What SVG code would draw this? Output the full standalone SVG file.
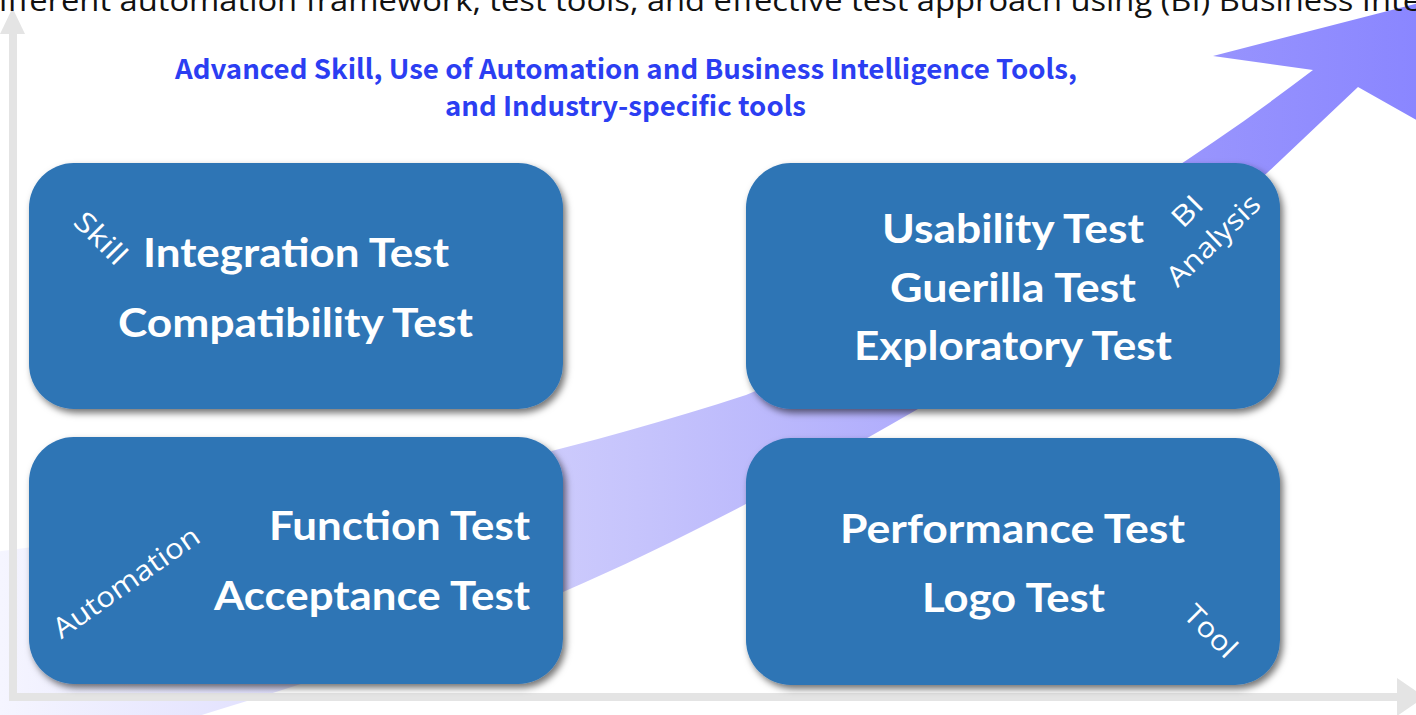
<svg xmlns="http://www.w3.org/2000/svg" width="1416" height="715" viewBox="0 0 1416 715">
  <defs>
    <linearGradient id="arrowGrad" gradientUnits="userSpaceOnUse" x1="0" y1="0" x2="1416" y2="0">
      <stop offset="0" stop-color="#f5f5ff"/>
      <stop offset="0.45" stop-color="#c6c4fc"/>
      <stop offset="0.85" stop-color="#9894fd"/>
      <stop offset="1" stop-color="#8a86ff"/>
    </linearGradient>
    <filter id="shadow" x="-10%" y="-10%" width="125%" height="130%">
      <feDropShadow dx="3" dy="4" stdDeviation="3.5" flood-color="#000" flood-opacity="0.55"/>
    </filter>
    <style>
      .box { fill: #2e74b5; filter: url(#shadow); }
      .main { font-family: Lato, "Open Sans", sans-serif; font-weight: bold; font-size: 40px; fill: #ffffff; }
      .tag { font-family: "Open Sans", "DejaVu Sans", sans-serif; font-size: 28px; fill: #ffffff; }
      .blue { font-family: "Noto Sans CJK JP", "Noto Sans", sans-serif; font-weight: bold; font-size: 27px; fill: #2b3ef2; }
      .axis { fill: #e4e4e4; }
    </style>
  </defs>
  <rect width="1416" height="715" fill="#ffffff"/>

  <!-- background growth arrow -->
  <g id="growth-arrow">
    <path fill="url(#arrowGrad)" d="M -30 555 C 250 520, 500 475, 746 395 C 950 310, 1150 195, 1313 70 L 1213 56 L 1470 -10 L 1470 150 L 1358 87 L 1267 173 C 1150 280, 800 490, 563 592 C 400 655, 200 720, -30 780 Z"/>
  </g>

  <!-- axes -->
  <g id="connectors">
    <rect class="axis" x="9" y="30" width="8" height="671"/>
    <polygon class="axis" points="0,34 12.5,8 25,34"/>
    <rect class="axis" x="9" y="693" width="1392" height="8"/>
    <polygon class="axis" points="1397,678 1425,697 1397,716"/>
  </g>

  <!-- nodes -->
  <g id="node-integration">
    <rect class="box" x="29" y="163" width="534" height="246" rx="45" ry="45"/>
    <text class="main" x="296" y="267" text-anchor="middle" textLength="306" lengthAdjust="spacingAndGlyphs">Integration Test</text>
    <text class="main" x="295.5" y="337" text-anchor="middle" textLength="355" lengthAdjust="spacingAndGlyphs">Compatibility Test</text>
    <text class="tag" transform="translate(101,238) rotate(45)" x="0" y="10" text-anchor="middle" textLength="62" lengthAdjust="spacingAndGlyphs">Skill</text>
  </g>

  <g id="node-usability">
    <rect class="box" x="746" y="163" width="534" height="246" rx="45" ry="45"/>
    <text class="main" x="1013" y="243" text-anchor="middle" textLength="262" lengthAdjust="spacingAndGlyphs">Usability Test</text>
    <text class="main" x="1013" y="302" text-anchor="middle" textLength="246" lengthAdjust="spacingAndGlyphs">Guerilla Test</text>
    <text class="main" x="1013" y="360" text-anchor="middle" textLength="318" lengthAdjust="spacingAndGlyphs">Exploratory Test</text>
    <text class="tag" transform="translate(1187,211) rotate(-45)" x="0" y="10" text-anchor="middle" textLength="32" lengthAdjust="spacingAndGlyphs">BI</text>
    <text class="tag" transform="translate(1213,240) rotate(-44)" x="0" y="10" text-anchor="middle" textLength="118" lengthAdjust="spacingAndGlyphs">Analysis</text>
  </g>

  <g id="node-function">
    <rect class="box" x="29" y="437" width="534" height="247" rx="45" ry="45"/>
    <text class="main" x="530" y="540" text-anchor="end" textLength="261" lengthAdjust="spacingAndGlyphs">Function Test</text>
    <text class="main" x="530" y="610" text-anchor="end" textLength="316" lengthAdjust="spacingAndGlyphs">Acceptance Test</text>
    <text class="tag" transform="translate(126,582) rotate(-35)" x="0" y="10" text-anchor="middle" textLength="172" lengthAdjust="spacingAndGlyphs">Automation</text>
  </g>

  <g id="node-performance">
    <rect class="box" x="746" y="438" width="534" height="247" rx="45" ry="45"/>
    <text class="main" x="1012.5" y="543" text-anchor="middle" textLength="345" lengthAdjust="spacingAndGlyphs">Performance Test</text>
    <text class="main" x="1013.5" y="612" text-anchor="middle" textLength="183" lengthAdjust="spacingAndGlyphs">Logo Test</text>
    <text class="tag" transform="translate(1211,631) rotate(45)" x="0" y="10" text-anchor="middle" textLength="62" lengthAdjust="spacingAndGlyphs">Tool</text>
  </g>

  <!-- headings -->
  <g id="heading">
    <text class="blue" x="626" y="79" text-anchor="middle" textLength="902" lengthAdjust="spacingAndGlyphs">Advanced Skill, Use of Automation and Business Intelligence Tools,</text>
    <text class="blue" x="625.5" y="116" text-anchor="middle" textLength="361" lengthAdjust="spacingAndGlyphs">and Industry-specific tools</text>
  </g>

  <g id="top-caption">
    <text x="-1" y="11" font-family="'Open Sans', 'Liberation Sans', sans-serif" font-size="30" fill="#111111" textLength="1422" lengthAdjust="spacingAndGlyphs">ifferent automation framework, test tools, and effective test approach using (BI) Business Inte</text>
  </g>
</svg>
